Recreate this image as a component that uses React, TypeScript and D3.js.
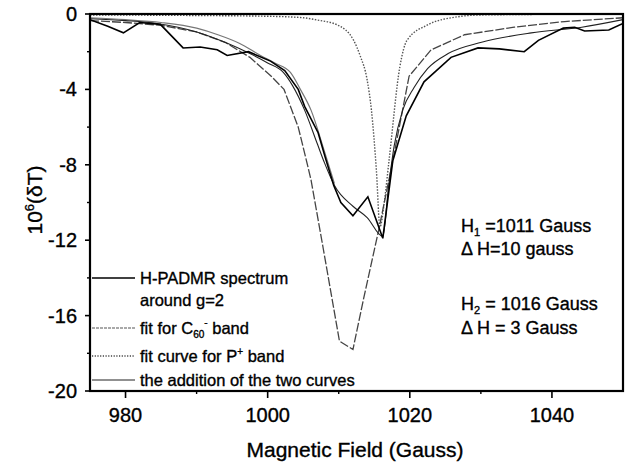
import React from "react";
import * as d3 from "d3";

// ---------- data ----------
const spectrumField = [975, 977.5, 979.7, 982, 984.9, 988.1, 990.5, 992.9, 994.3, 997.3, 1000.4, 1002.4, 1004.3, 1005.2, 1007.1, 1008.1, 1009.3, 1010.3, 1012, 1014.1, 1016.2, 1017.6, 1019.5, 1022, 1025.8, 1029.6, 1032.6, 1036.1, 1038.1, 1041.6, 1043.2, 1044.6, 1048, 1050];
const spectrumValue = [-0.3, -0.65, -1.0, -0.45, -0.55, -1.8, -1.75, -1.9, -2.2, -2.0, -2.5, -3.0, -4.0, -4.9, -6.3, -7.6, -9.1, -10.0, -10.7, -9.7, -11.9, -7.8, -5.4, -3.6, -2.3, -1.8, -1.85, -2.0, -1.4, -0.75, -0.7, -0.9, -0.85, -0.5];

const c60Field = [975, 980, 985, 990, 994, 997.5, 1000.5, 1002.3, 1003.3, 1004.3, 1005.6, 1006.1, 1007.8, 1010.1, 1012, 1013.5, 1015.6, 1017.6, 1019.9, 1023, 1027.7, 1034.7, 1041.8, 1050];
const c60Value = [-0.35, -0.45, -0.6, -0.95, -1.5, -2.3, -3.3, -4.0, -5.0, -6.0, -8.0, -8.8, -12.4, -17.35, -17.8, -15.1, -11.5, -7.8, -3.3, -1.9, -1.1, -0.7, -0.4, -0.2];

const pField = [975, 990, 1000, 1005, 1007, 1009.8, 1012.1, 1013, 1014, 1014.6, 1015.3, 1015.8, 1016.4, 1017.1, 1018.6, 1019.6, 1022.5, 1026.7, 1030, 1050];
const pValue = [-0.05, -0.08, -0.12, -0.2, -0.32, -0.58, -1.4, -2.2, -3.5, -5.1, -8.3, -11.3, -10.0, -7.7, -2.8, -1.4, -0.58, -0.15, -0.05, 0];

const additionField = [975, 980, 984.4, 990, 994, 997.5, 1000, 1002.2, 1003.5, 1005.2, 1007, 1008, 1009.4, 1012, 1014, 1016.2, 1017, 1017.8, 1019, 1020.6, 1022.5, 1025.4, 1030.1, 1037.1, 1044.2, 1050];
const additionValue = [-0.25, -0.35, -0.5, -0.95, -1.5, -2.1, -2.6, -3.1, -3.8, -5.1, -6.9, -7.9, -9.1, -10.2, -10.8, -11.8, -9.2, -7.0, -5.1, -3.9, -2.9, -2.1, -1.5, -1.0, -0.7, -0.3];

const wingField = [975, 980, 985, 990, 993, 996, 999, 1001, 1003.2, 1004.6, 1006.1, 1008, 1009.4];
const wingValue = [-0.2, -0.3, -0.45, -0.75, -1.1, -1.55, -2.2, -2.6, -3.1, -4.0, -5.1, -7.3, -9.0];

const xTickValues = [980, 1000, 1020, 1040];
const xMinorTicks = [990, 1010, 1030];
const yTickValues = [0, -4, -8, -12, -16, -20];
const yMinorTicks = [-2, -6, -10, -14, -18];

const legendLabels = ["H-PADMR spectrum", "around g=2", "fit for C", "fit curve for P", "the addition of the two curves"];

// ---------- layout ----------
const W = 632, H = 468;
const L = 90, R = 623, T = 14, B = 391;
const FONT = "'Liberation Sans', Arial, Helvetica, sans-serif";
const TS = { stroke: "#000", strokeWidth: 0.35 };

export default function App() {
  const x = d3.scaleLinear().domain([975, 1050]).range([L, R]);
  const y = d3.scaleLinear().domain([-20, 0]).range([B, T]);

  const mk = (xs: number[], ys: number[], curve: any) =>
    d3.line<number>().x((_, i) => x(xs[i])).y((_, i) => y(ys[i])).curve(curve)(xs.map((_, i) => i)) || "";

  const spectrumPath = mk(spectrumField, spectrumValue, d3.curveLinear);
  const c60Path = mk(c60Field, c60Value, d3.curveLinear);
  const pPath = mk(pField, pValue, d3.curveMonotoneX);
  const addPath = mk(additionField, additionValue, d3.curveMonotoneX);
  const wingPath = mk(wingField, wingValue, d3.curveMonotoneX);

  const legendY = [278, 300, 328, 356, 380];

  return (
    <svg width={W} height={H} style={{ position: "absolute", left: 0, top: 0, background: "#fff" }} fontFamily={FONT}>
      <rect x={0} y={0} width={W} height={H} fill="#fff" />
      <defs>
        <clipPath id="plotclip">
          <rect x={L} y={T} width={R - L} height={B - T} />
        </clipPath>
      </defs>

      <g clipPath="url(#plotclip)" fill="none">
        <path d={pPath} stroke="#555" strokeWidth={1.4} strokeDasharray="1.5,1.5" />
        <path d={wingPath} stroke="#777" strokeWidth={1.2} />
        <path d={c60Path} stroke="#444" strokeWidth={1.3} strokeDasharray="9,2" />
        <path d={addPath} stroke="#222" strokeWidth={1.1} />
        <path d={spectrumPath} stroke="#000" strokeWidth={1.6} />
      </g>

      {/* frame */}
      <rect x={L} y={T} width={R - L} height={B - T} fill="none" stroke="#000" strokeWidth={2.2} />

      {/* y ticks */}
      {yTickValues.map((v) => (
        <g key={"y" + v}>
          <line x1={L - 5} x2={L} y1={y(v)} y2={y(v)} stroke="#000" strokeWidth={1.6} />
          <text x={77} y={y(v) + 7} fontSize={20} textAnchor="end" fill="#000" {...TS}>{v === 0 ? "0" : "-" + Math.abs(v)}</text>
        </g>
      ))}
      {yMinorTicks.map((v) => (
        <line key={"ym" + v} x1={L - 3} x2={L} y1={y(v)} y2={y(v)} stroke="#000" strokeWidth={1.4} />
      ))}

      {/* x ticks */}
      {xTickValues.map((v) => (
        <g key={"x" + v}>
          <line x1={x(v)} x2={x(v)} y1={B} y2={B + 7} stroke="#000" strokeWidth={1.6} />
          <text x={x(v)} y={422} fontSize={20} textAnchor="middle" fill="#000" {...TS}>{v}</text>
        </g>
      ))}
      {xMinorTicks.map((v) => (
        <line key={"xm" + v} x1={x(v)} x2={x(v)} y1={B} y2={B + 3} stroke="#000" strokeWidth={1.4} />
      ))}

      {/* axis titles */}
      <text x={355} y={457} fontSize={21} textAnchor="middle" fill="#000" {...TS}>Magnetic Field (Gauss)</text>
      <text transform="translate(42,200) rotate(-90)" fontSize={21} textAnchor="middle" fill="#000" {...TS}>
        10<tspan fontSize={13} dy={-8}>6</tspan><tspan dy={8}>(δT)</tspan>
      </text>

      {/* annotations */}
      <g fontSize={18} fill="#000" {...TS}>
        <text x={461} y={232}>H<tspan fontSize={11} dy={4}>1</tspan><tspan dy={-4}> =1011 Gauss</tspan></text>
        <text x={461} y={255}>Δ H=10 gauss</text>
        <text x={461} y={310}>H<tspan fontSize={11} dy={4}>2</tspan><tspan dy={-4}> = 1016 Gauss</tspan></text>
        <text x={461} y={334}>Δ H = 3 Gauss</text>
      </g>

      {/* legend */}
      <g fontSize={16.5} fill="#000">
        <line x1={92} x2={135} y1={legendY[0]} y2={legendY[0]} stroke="#000" strokeWidth={1.5} />
        <text x={140} y={legendY[0] + 6} {...TS}>{legendLabels[0]}</text>
        <text x={140} y={legendY[1] + 6} {...TS}>{legendLabels[1]}</text>
        <line x1={92} x2={135} y1={legendY[2]} y2={legendY[2]} stroke="#555" strokeWidth={1.2} strokeDasharray="3,1" />
        <text x={140} y={legendY[2] + 6} {...TS}>{legendLabels[2]}<tspan fontSize={10} dy={4}>60</tspan><tspan fontSize={10} dy={-12}>-</tspan><tspan dy={8}> band</tspan></text>
        <line x1={92} x2={135} y1={legendY[3]} y2={legendY[3]} stroke="#444" strokeWidth={1.3} strokeDasharray="1.2,1.5" />
        <text x={140} y={legendY[3] + 6} {...TS}>{legendLabels[3]}<tspan fontSize={10} dy={-7}>+</tspan><tspan dy={7}> band</tspan></text>
        <line x1={92} x2={135} y1={legendY[4]} y2={legendY[4]} stroke="#222" strokeWidth={1.1} />
        <text x={140} y={legendY[4] + 6} {...TS}>{legendLabels[4]}</text>
      </g>
    </svg>
  );
}
